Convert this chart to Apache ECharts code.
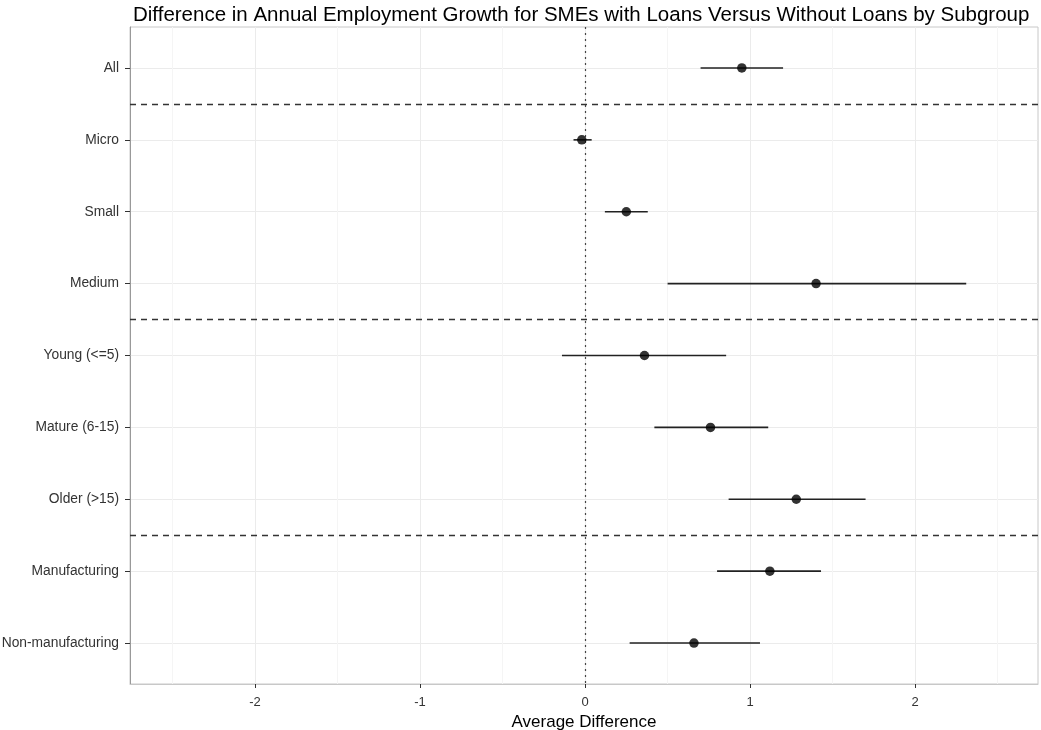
<!DOCTYPE html>
<html>
<head>
<meta charset="utf-8">
<script src="https://cdn.jsdelivr.net/npm/echarts@6/dist/echarts.min.js"></script>
<style>html,body{margin:0;padding:0;background:#fff}#c{width:1041px;height:730px}</style>
</head>
<body>
<div id="c"></div>
<script>
var categories = ['All', 'Micro', 'Small', 'Medium', 'Young (<=5)', 'Mature (6-15)', 'Older (>15)', 'Manufacturing', 'Non-manufacturing'];
var estimates = [0.95, -0.02, 0.25, 1.40, 0.36, 0.76, 1.28, 1.12, 0.66];
var lowerCI = [0.70, -0.07, 0.12, 0.50, -0.14, 0.42, 0.87, 0.80, 0.27];
var upperCI = [1.20, 0.04, 0.38, 2.31, 0.855, 1.11, 1.70, 1.43, 1.06];
var xTicks = [-2, -1, 0, 1, 2];
var xMinor = [-2.5, -1.5, -0.5, 0.5, 1.5, 2.5];
var groupSeparators = [0.5, 3.5, 6.5];
var titleText = 'Difference in Annual Employment Growth for SMEs with Loans Versus Without Loans by Subgroup';
var xTitle = 'Average Difference';

var idx = categories.map(function (c, i) { return i; });
var chart = echarts.init(document.getElementById('c'), null, { renderer: 'canvas' });
var font = 'Liberation Sans, Arial, sans-serif';

chart.setOption({
  animation: false,
  backgroundColor: '#ffffff',
  title: {
    text: titleText, left: 128, top: 0,
    textStyle: { fontFamily: font, fontSize: 20.5, fontWeight: 'normal', color: '#000' }
  },
  grid: {
    left: 130, right: 3, top: 27, bottom: 46, show: true, borderColor: '#c8c8c8', borderWidth: 1,
    containLabel: false, outerBoundsMode: 'none'
  },
  xAxis: {
    type: 'value', min: -2.758, max: 2.745,
    axisLine: { show: true, onZero: false, lineStyle: { color: '#c8c8c8' } },
    axisTick: { show: true, length: 4, customValues: xTicks, lineStyle: { color: '#333' } },
    axisLabel: { customValues: xTicks, fontFamily: font, fontSize: 13, color: '#333', margin: 12 },
    splitLine: { show: true, lineStyle: { color: '#ebebeb', width: 1 } },
    name: xTitle, nameLocation: 'middle', nameGap: 24,
    nameTextStyle: { fontFamily: font, fontSize: 17, color: '#000' }
  },
  yAxis: {
    type: 'value', inverse: true, min: -0.57, max: 8.57,
    axisLine: { show: true, onZero: false, lineStyle: { color: '#999' } },
    axisTick: { show: true, length: 5, customValues: idx, lineStyle: { color: '#333' } },
    axisLabel: {
      customValues: idx, fontFamily: font, fontSize: 13.8, color: '#333', margin: 11,
      formatter: function (v) { return categories[Math.round(v)] || ''; }
    },
    splitLine: { show: true, lineStyle: { color: '#ebebeb', width: 1 } }
  },
  series: [
    {
      type: 'line', data: [], silent: true, z: 0,
      markLine: {
        silent: true, symbol: 'none', label: { show: false }, z: 0,
        lineStyle: { color: '#f5f5f5', width: 1, type: 'solid' },
        data: xMinor.map(function (v) { return { xAxis: v }; })
      }
    },
    {
      type: 'line', data: [], silent: true, z: 1,
      markLine: {
        silent: true, symbol: 'none', label: { show: false }, z: 1,
        data: [{ xAxis: 0, lineStyle: { color: '#444', width: 1.2, type: [2, 4] } }].concat(
          groupSeparators.map(function (v) { return { yAxis: v, lineStyle: { color: '#333', width: 1.3, type: [6, 5] } }; })
        )
      }
    },
    {
      type: 'custom',
      data: idx.map(function (i) { return [lowerCI[i], upperCI[i], i]; }),
      encode: { x: [0, 1], y: 2 },
      renderItem: function (params, api) {
        var a = api.coord([api.value(0), api.value(2)]);
        var b = api.coord([api.value(1), api.value(2)]);
        return { type: 'line', shape: { x1: a[0], y1: a[1], x2: b[0], y2: b[1] }, style: { stroke: '#222', lineWidth: 1.6 } };
      },
      z: 5
    },
    {
      type: 'scatter', symbol: 'circle', symbolSize: 9.5,
      itemStyle: { color: '#000' },
      data: idx.map(function (i) { return [estimates[i], i]; }),
      z: 6
    }
  ]
});
</script>
</body>
</html>
